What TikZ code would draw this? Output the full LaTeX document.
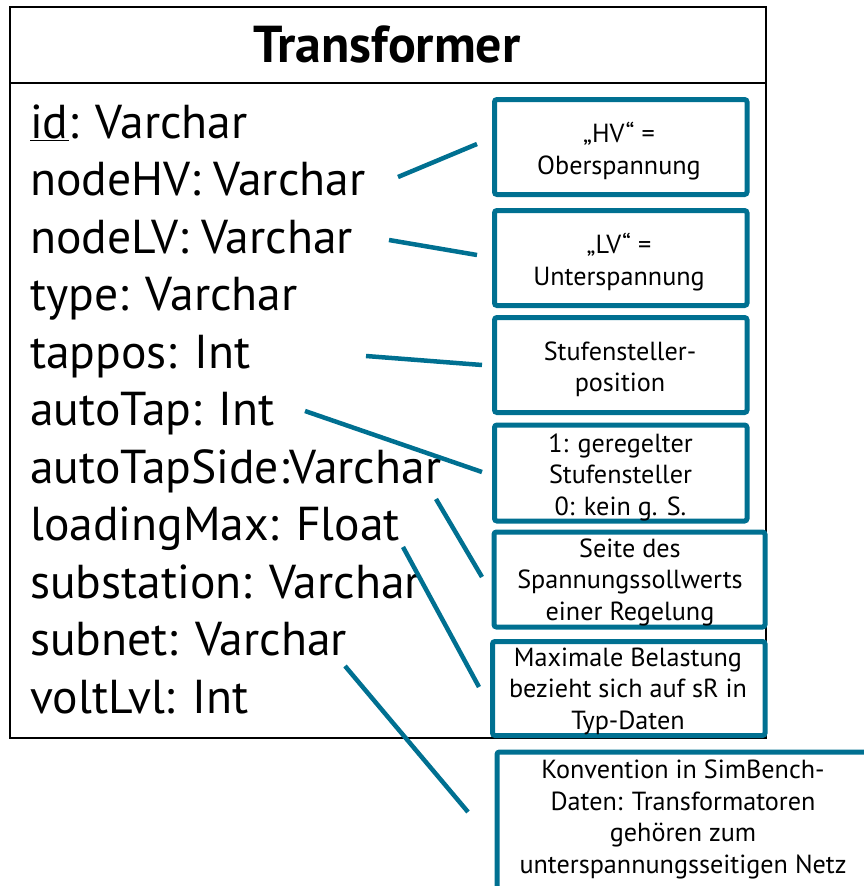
\documentclass[tikz,border=0pt]{standalone}
\usepackage{fontspec}
\setmainfont{PT Sans}
\definecolor{petrol}{RGB}{0,112,145}
\newlength\fitlen
% font sizes follow from the width of one sample line each
\AtBeginDocument{%
  \settowidth\fitlen{\fontsize{40pt}{48pt}\selectfont autoTapSide:Varchar}%
  \pgfmathsetmacro\attrsize{(411/\fitlen)*40}%
  \settowidth\fitlen{\fontsize{20pt}{24pt}\selectfont unterspannungsseitigen Netz}%
  \pgfmathsetmacro\notesize{(327/\fitlen)*20}%
  \settowidth\fitlen{\fontsize{40pt}{48pt}\selectfont\bfseries Transformer}%
  \pgfmathsetmacro\titlesize{(267/\fitlen)*40}%
}
\newcommand\attrfont{\fontsize{\attrsize pt}{57.5pt}\selectfont}
\newcommand\notefont{\fontsize{\notesize pt}{31.5pt}\selectfont}
\newcommand\titlefont{\fontsize{\titlesize pt}{50pt}\selectfont\bfseries}
\begin{document}
\begin{tikzpicture}[x=1pt,y=-1pt,
  classframe/.style={draw=black,line width=2.2pt,inner sep=0pt},
  notebox/.style={draw=petrol,line width=5pt,rounded corners=2.5pt,fill=white,inner sep=0pt},
  notetext/.style={font=\notefont,align=center,inner sep=0pt},
  attr/.style={font=\attrfont,anchor=base west,inner sep=0pt},
  link/.style={draw=petrol,line width=4.5pt}]

\useasboundingbox (0,0) rectangle (864,886);

% class frame with title compartment
\node[classframe,minimum width=756,minimum height=731,anchor=north west] (cls) at (9,6) {};
\coordinate (sepL) at (9,83);
\coordinate (sepR) at (765,83);
\draw[classframe] (sepL) -- (sepR);
\node[font=\titlefont,anchor=base,inner sep=0pt] (title) at (387,62) {Transformer};

% attributes
\node[attr] (aId)      at (30,138.3) {\underline{id}: Varchar};
\node[attr] (aHV)      at (30,195.8) {nodeHV: Varchar};
\node[attr] (aLV)      at (30,253.2) {nodeLV: Varchar};
\node[attr] (aType)    at (30,310.7) {type: Varchar};
\node[attr] (aTap)     at (30,368.2) {tappos: Int};
\node[attr] (aAuto)    at (30,425.6) {autoTap: Int};
\node[attr] (aSide)    at (30,483.1) {autoTapSide:Varchar};
\node[attr] (aLoad)    at (30,540.6) {loadingMax: Float};
\node[attr] (aSub)     at (30,598.1) {substation: Varchar};
\node[attr] (aNet)     at (30,655.5) {subnet: Varchar};
\node[attr] (aVolt)    at (30,713.0) {voltLvl: Int};

% annotation boxes
\node[notebox,minimum width=252.5,minimum height=95] (bHV)   at (620.75,147) {};
\node[notebox,minimum width=252.5,minimum height=95] (bLV)   at (620.75,258) {};
\node[notebox,minimum width=252.5,minimum height=95] (bTap)  at (620.75,365) {};
\node[notebox,minimum width=252.5,minimum height=96] (bAuto) at (620.75,473) {};
\node[notebox,minimum width=271,minimum height=95]   (bSide) at (629.5,579.5) {};
\node[notebox,minimum width=272.5,minimum height=94] (bLoad) at (628.75,688.5) {};
\begin{scope}
  \clip (0,0) rectangle (864,886);
  \node[notebox,minimum width=400,minimum height=200,anchor=north west] (bNet) at (494.5,749.5) {};
\end{scope}

\node[notetext] (tHV)   at (619,151)   {„HV“ =\\Oberspannung};
\node[notetext] (tLV)   at (619,262)   {„LV“ =\\Unterspannung};
\node[notetext] (tTap)  at (620,369.5) {Stufensteller-\\position};
\node[notetext] (tAuto) at (620.5,477) {1: geregelter\\Stufensteller\\0: kein g. S.};
\node[notetext] (tSide) at (630,582)   {Seite des\\Spannungssollwerts\\einer Regelung};
\node[notetext] (tLoad) at (628,691)   {Maximale Belastung\\bezieht sich auf sR in\\Typ-Daten};
\node[notetext] (tNet)  at (683,819.5) {Konvention in SimBench-\\Daten: Transformatoren\\gehören zum\\unterspannungsseitigen Netz};

% connectors between attributes and notes
\coordinate (hvA)   at (398,177);  \coordinate (hvB)   at (477,144);
\coordinate (lvA)   at (389,240);  \coordinate (lvB)   at (477,255);
\coordinate (tapA)  at (366,356);  \coordinate (tapB)  at (482,365);
\coordinate (autoA) at (305,411);  \coordinate (autoB) at (482,472);
\coordinate (sideA) at (436,499);  \coordinate (sideB) at (482,577);
\coordinate (loadA) at (403,547);  \coordinate (loadB) at (479,687);
\coordinate (netA)  at (345,666);  \coordinate (netB)  at (468,812);
\draw[link] (hvA) -- (hvB);
\draw[link] (lvA) -- (lvB);
\draw[link] (tapA) -- (tapB);
\draw[link] (autoA) -- (autoB);
\draw[link] (sideA) -- (sideB);
\draw[link] (loadA) -- (loadB);
\draw[link] (netA) -- (netB);
\end{tikzpicture}
\end{document}
